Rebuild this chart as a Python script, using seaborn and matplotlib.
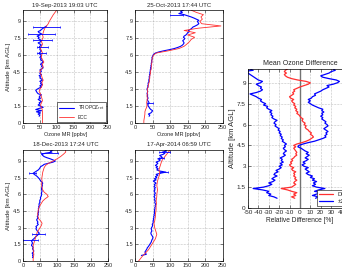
import matplotlib
matplotlib.use("Agg")
import matplotlib.pyplot as plt
import seaborn as sns

# ---- data ----
# profiles are sampled every 0.1 km (TROPOZ, difference) or 0.2 km (ECC)
ALT_FINE = [i / 10 for i in range(101)]
ALT_COARSE = [i / 5 for i in range(51)]

titles = ["19-Sep-2013 19:03 UTC", "25-Oct-2013 17:44 UTC",
          "18-Dec-2013 17:24 UTC", "17-Apr-2014 06:59 UTC"]

# TROPOZ retrievals: (start altitude in km, values in ppbv)
tl_blue_start = 0.6
tl_blue = [48, 50, 45, 52, 40, 55, 38, 48, 60, 52,
           45, 50, 48, 55, 50, 45, 52, 48, 50, 55,
           45, 42, 40, 38, 42, 48, 55, 50, 58, 52,
           55, 50, 58, 55, 50, 52, 48, 55, 50, 52,
           55, 50, 56, 60, 55, 58, 52, 55, 60, 58,
           52, 55, 50, 52, 55, 50, 48, 52, 55, 50,
           52, 48, 50, 55, 50, 45, 52, 55, 50, 45,
           48, 42, 50, 55, 48, 45, 52, 55, 60, 65,
           70]
tr_blue_start = 0.6
tr_blue = [40, 42, 38, 45, 48, 50, 45, 42, 40, 38,
           36, 38, 40, 38, 36, 35, 37, 36, 35, 36,
           34, 35, 36, 35, 34, 35, 37, 36, 38, 37,
           38, 40, 39, 40, 41, 40, 42, 41, 43, 42,
           44, 43, 45, 44, 46, 45, 47, 46, 48, 47,
           48, 49, 48, 50, 51, 53, 58, 68, 82, 98,
           112, 122, 130, 135, 138, 140, 138, 136, 140, 142,
           138, 140, 145, 148, 150, 155, 152, 158, 162, 165,
           172, 178, 182, 180, 178, 182, 175, 168, 160, 150,
           140, 125, 135, 130, 138]
bl_blue_start = 0.3
bl_blue = [28, 30, 28, 30, 27, 30, 32,
           30, 28, 30, 28, 25, 26, 28, 27, 25, 28,
           32, 35, 38, 42, 45, 48, 45, 42, 40, 38,
           40, 38, 42, 45, 42, 44, 42, 40, 42, 44,
           42, 44, 45, 44, 46, 45, 46, 45, 47, 46,
           48, 47, 48, 50, 49, 50, 52, 51, 53, 54,
           55, 54, 55, 56, 55, 54, 55, 56, 57, 56,
           58, 56, 52, 50, 48, 45, 42, 38, 33, 30,
           35, 40, 45, 48, 50, 52, 58, 62, 75, 88,
           95, 88, 80, 70, 62, 58, 55, 65, 85, 80,
           88]
br_blue_start = 0.5
br_blue = [18, 32, 30, 28, 30,
           32, 34, 35, 38, 40, 42, 44, 46, 47, 48,
           50, 51, 50, 48, 46, 45, 46, 48, 47, 46,
           47, 49, 50, 49, 51, 52, 51, 53, 52, 54,
           53, 55, 54, 56, 55, 56, 55, 57, 56, 58,
           57, 59, 57, 56, 58, 55, 57, 56, 54, 57,
           55, 58, 56, 54, 57, 55, 58, 54, 57, 55,
           60, 56, 52, 60, 55, 62, 58, 65, 60, 72,
           88, 70, 62, 66, 60, 64, 58, 62, 65, 60,
           68, 72, 65, 78, 75, 70, 80, 85, 78, 90,
           85]

# ECC sondes, 0 - 10 km
tl_red = [58, 58, 58, 58, 58, 58, 57, 55, 52, 55,
          58, 56, 54, 52, 48, 50, 55, 58, 56, 60,
          57, 55, 52, 50, 56, 60, 57, 62, 58, 55,
          55, 58, 55, 52, 55, 58, 55, 57, 60, 58,
          60, 62, 65, 70, 75, 78, 82, 86, 90, 95,
          100]
tr_red = [25, 25, 26, 27, 28, 28, 30, 33, 34, 33,
          34, 35, 34, 35, 36, 35, 37, 38, 40, 41,
          42, 42, 44, 44, 46, 46, 47, 48, 48, 50,
          52, 60, 95, 125, 140, 148, 155, 160, 170, 150,
          172, 140, 180, 245, 190, 185, 192, 188, 195, 175,
          160]
bl_red = [30, 30, 31, 32, 31, 30, 30, 30, 32, 34,
          36, 38, 40, 42, 46, 50, 54, 56, 52, 46,
          44, 43, 44, 45, 47, 50, 54, 58, 65, 74,
          70, 62, 58, 56, 55, 55, 56, 55, 56, 57,
          58, 60, 62, 66, 75, 88, 100, 110, 118, 125,
          125]
br_red = [10, 15, 20, 26, 32, 38, 42, 46, 50, 54,
          58, 60, 62, 60, 58, 56, 55, 54, 56, 57,
          58, 58, 59, 60, 60, 60, 61, 60, 61, 62,
          62, 63, 64, 63, 62, 63, 64, 66, 68, 70,
          70, 68, 70, 72, 74, 76, 80, 85, 90, 95,
          100]

# retrieval uncertainty bars: altitude, centre, half width
tl_err_alt = [8.5, 7.9, 7.35, 6.75, 6.2]
tl_err_mid = [70, 55, 58, 58, 55]
tl_err_half = [40, 40, 28, 17, 14]
tr_err_alt = [1.8, 9.6]
tr_err_mid = [43, 118]
tr_err_half = [8, 18]
bl_err_alt = [9.7, 7.95, 2.45, 1.9]
bl_err_mid = [78, 28, 45, 22]
bl_err_half = [24, 10, 19, 22]
br_err_alt = [9.85, 9.3, 8.0]
br_err_mid = [84, 75, 82]
br_err_half = [16, 8, 12]

# mean relative difference (%), 0.7 - 10 km
diff_start = 0.7
diff_mean = [-5, -8, -4,
             -6, -3, -8, -12, -18, -8, -6, -4, -6, -5,
             -3, -5, -4, -6, -5, -6, -4, -7, -8, -6,
             -9, -10, -8, -9, -7, -8, -6, -5, -3, -4,
             -3, -4, -5, -6, -4, -6, -3, 2, 6, 9,
             11, 13, 12, 10, 11, 9, 8, 6, 5, 6,
             4, 5, 3, 2, 3, 1, 0, -1, -3, -2,
             -4, -3, -5, -4, -6, -5, -7, -8, -6, -9,
             -10, -8, -6, -7, -5, -6, -3, 0, 4, 8,
             10, 6, -2, -8, -12, -14, -15, -13, -15, -14,
             -12]
diff_low = [-22, -25, -30,
            -28, -32, -30, -36, -45, -35, -30, -27, -30, -26,
            -24, -27, -25, -22, -25, -24, -21, -23, -20, -18,
            -20, -17, -19, -16, -18, -17, -19, -16, -14, -16,
            -15, -13, -15, -16, -14, -15, -13, -15, -17, -16,
            -18, -17, -19, -18, -20, -19, -21, -20, -22, -24,
            -23, -25, -24, -22, -25, -27, -26, -28, -27, -29,
            -27, -30, -32, -31, -35, -33, -36, -38, -37, -40,
            -42, -45, -48, -42, -38, -36, -38, -37, -40, -42,
            -38, -36, -40, -42, -44, -46, -48, -50, -55, -45,
            -48]
diff_high = [15, 18, 12,
             16, 20, 14, 18, 24, 16, 12, 15, 13, 16,
             12, 14, 10, 12, 8, 6, 9, 7, 5, 8,
             4, 2, 5, 3, 6, 8, 5, 7, 9, 6,
             8, 5, 3, 1, -2, -1, 3, 8, 14, 18,
             22, 25, 24, 26, 25, 27, 25, 23, 25, 27,
             26, 24, 25, 23, 21, 22, 20, 22, 21, 23,
             21, 22, 18, 15, 12, 10, 8, 10, 8, 11,
             12, 15, 14, 17, 20, 22, 25, 28, 26, 32,
             36, 38, 35, 28, 22, 20, 24, 28, 30, 34,
             32]

alt_ticks = [0, 1.5, 3, 4.5, 6, 7.5, 9]
alt_labels = ["0", "1.5", "3", "4.5", "6", "7.5", "9"]
mr_ticks = [0, 50, 100, 150, 200, 250]
diff_ticks = [-50, -40, -30, -20, -10, 0, 10, 20, 30, 40, 50]

BLUE = "#0000ff"
RED = "#ff3030"


def fine_alt(start, values):
    i0 = int(round(start * 10))
    return ALT_FINE[i0:i0 + len(values)]


def style_axis(ax, fs):
    ax.set_yticks(alt_ticks)
    ax.set_yticklabels(alt_labels)
    ax.set_ylim(0, 10)
    ax.grid(True, ls=":", lw=0.4, color="0.55")
    ax.tick_params(direction="in", top=True, right=True, length=2,
                   width=0.4, labelsize=fs, pad=1.5)
    for sp in ax.spines.values():
        sp.set_linewidth(0.5)
        sp.set_color("black")


sns.set_style("ticks")
plt.rcParams["font.family"] = ["Liberation Sans", "DejaVu Sans"]
plt.rcParams["axes.unicode_minus"] = False

fig = plt.figure(figsize=(3.42, 2.67), dpi=100)

positions = [[0.067, 0.539, 0.247, 0.423],
             [0.395, 0.539, 0.256, 0.423],
             [0.067, 0.0225, 0.250, 0.416],
             [0.395, 0.0225, 0.256, 0.416]]
blues = [(tl_blue_start, tl_blue), (tr_blue_start, tr_blue),
         (bl_blue_start, bl_blue), (br_blue_start, br_blue)]
reds = [tl_red, tr_red, bl_red, br_red]
errs = [(tl_err_alt, tl_err_mid, tl_err_half),
        (tr_err_alt, tr_err_mid, tr_err_half),
        (bl_err_alt, bl_err_mid, bl_err_half),
        (br_err_alt, br_err_mid, br_err_half)]

for k in range(4):
    ax = fig.add_axes(positions[k])
    start, bvals = blues[k]
    sns.lineplot(x=bvals, y=fine_alt(start, bvals), ax=ax, color=BLUE,
                 lw=0.8, sort=False, estimator=None, legend=False,
                 label="TROPOZ$_{\\rm ret}$")
    sns.lineplot(x=reds[k], y=ALT_COARSE, ax=ax, color=RED, lw=0.6,
                 sort=False, estimator=None, legend=False, label="ECC")
    ea, em, eh = errs[k]
    ax.errorbar(em, ea, xerr=eh, fmt="none", ecolor=BLUE, elinewidth=0.6,
                capsize=1.0, capthick=0.5)
    ax.set_xlim(0, 250)
    ax.set_xticks(mr_ticks)
    style_axis(ax, 4.0)
    ax.set_title(titles[k], fontsize=4.3, pad=2.5)
    ax.set_xlabel("Ozone MR [ppbv]", fontsize=4.0, labelpad=1.5)
    if k in (0, 2):
        ax.set_ylabel("Altitude [km AGL]", fontsize=4.5, labelpad=1.5)
    else:
        ax.set_ylabel("")
    if k == 0:
        leg = ax.legend(loc="lower right", fontsize=3.4, frameon=True,
                        fancybox=False, framealpha=1, edgecolor="black",
                        borderaxespad=0.3, handlelength=3.2,
                        borderpad=0.4, labelspacing=0.5)
        leg.get_frame().set_linewidth(0.4)

# mean difference panel (extends past the right edge of the figure)
ax = fig.add_axes([0.725, 0.221, 0.304, 0.521])
ax.axvline(0, color="0.45", lw=1.0, zorder=1)
diff_alt = fine_alt(diff_start, diff_mean)
sns.lineplot(x=diff_mean, y=diff_alt, ax=ax, color=RED, lw=0.9,
             sort=False, estimator=None, legend=False, label="Diff")
sns.lineplot(x=diff_low, y=diff_alt, ax=ax, color=BLUE, lw=0.9,
             sort=False, estimator=None, legend=False, label="±2σ")
sns.lineplot(x=diff_high, y=diff_alt, ax=ax, color=BLUE, lw=0.9,
             sort=False, estimator=None, legend=False)
ax.set_xlim(-50, 50)
ax.set_xticks(diff_ticks)
style_axis(ax, 4.6)
ax.set_title("Mean Ozone Difference", fontsize=5.0, pad=2.5)
ax.set_xlabel("Relative Difference [%]", fontsize=4.8, labelpad=1.5)
ax.set_ylabel("Altitude [km AGL]", fontsize=5.5, labelpad=0.5)
leg = ax.legend(loc="lower right", fontsize=4.4, frameon=True,
                fancybox=False, framealpha=1, edgecolor="black",
                borderaxespad=0.3, handlelength=2.2, borderpad=0.3,
                labelspacing=0.3)
leg.get_frame().set_linewidth(0.4)

fig.savefig("out.png", dpi=100)
